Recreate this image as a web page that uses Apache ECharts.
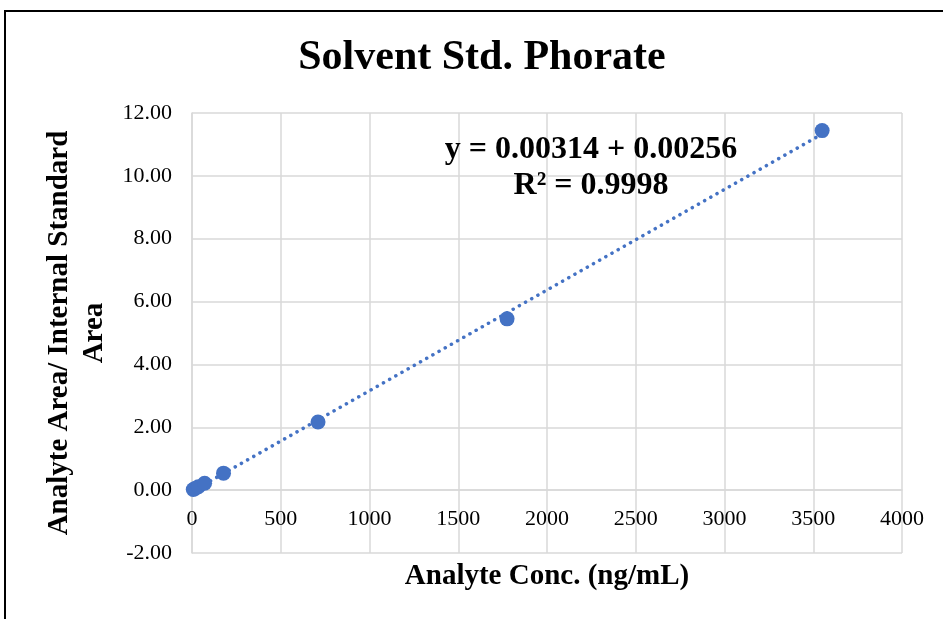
<!DOCTYPE html>
<html>
<head>
<meta charset="utf-8">
<script src="https://cdn.jsdelivr.net/npm/echarts@6/dist/echarts.min.js"></script>
<style>
  html, body { margin: 0; padding: 0; background: #fff; }
  #chart { width: 943px; height: 619px; }
</style>
</head>
<body>
<div id="chart"></div>
<script>
// calibration points (ng/mL, area ratio)
var concValues = [7.1, 17.75, 35.5, 71, 177.5, 710, 1775, 3550];
var ratioValues = [0.02, 0.05, 0.11, 0.22, 0.54, 2.17, 5.45, 11.44];
var xTicks = [0, 500, 1000, 1500, 2000, 2500, 3000, 3500, 4000];
var yTicks = [-2, 0, 2, 4, 6, 8, 10, 12];
var titleText = "Solvent Std. Phorate";
var equationText = "y = 0.00314 + 0.00256";
var r2Text = "R² = 0.9998";

var serif = "'Liberation Serif', 'Times New Roman', serif";

// least squares trendline from the points
var n = concValues.length, sx = 0, sy = 0, sxx = 0, sxy = 0;
for (var i = 0; i < n; i++) {
    sx += concValues[i];
    sy += ratioValues[i];
    sxx += concValues[i] * concValues[i];
    sxy += concValues[i] * ratioValues[i];
}
var slope = (n * sxy - sx * sy) / (n * sxx - sx * sx);
var intercept = (sy - slope * sx) / n;
var trendX = [0, concValues[n - 1]];

var points = concValues.map(function (c, i) { return [c, ratioValues[i]]; });
var trend = trendX.map(function (c) { return [c, intercept + slope * c]; });

var gridTop = 113, gridBottom = 66, chartH = 619;
var yMin = yTicks[0], yMax = yTicks[yTicks.length - 1];
// x axis labels sit on the y = 0 line, like Excel
var zeroOffset = -(0 - yMin) / (yMax - yMin) * (chartH - gridTop - gridBottom);

var gridLine = { color: "#d9d9d9", width: 1.5 };

var chart = echarts.init(document.getElementById("chart"));
chart.setOption({
    animation: false,
    backgroundColor: "#fff",
    grid: { left: 192, right: 41, top: gridTop, bottom: gridBottom },
    xAxis: {
        type: "value",
        min: xTicks[0],
        max: xTicks[xTicks.length - 1],
        interval: 500,
        offset: zeroOffset,
        axisLine: { show: true, onZero: false, lineStyle: gridLine },
        axisTick: { show: false },
        axisLabel: {
            fontFamily: serif, fontSize: 22, color: "#000", margin: 18,
            formatter: function (v) { return String(v); }
        },
        splitLine: { show: true, lineStyle: gridLine }
    },
    yAxis: {
        type: "value",
        min: yMin,
        max: yMax,
        interval: 2,
        name: "Analyte Area/ Internal Standard\nArea",
        nameLocation: "middle",
        nameGap: 80,
        nameMoveOverlap: false,
        nameTextStyle: { fontFamily: serif, fontSize: 29, fontWeight: "bold", color: "#000", lineHeight: 35 },
        axisLine: { show: true, onZero: false, lineStyle: gridLine },
        axisTick: { show: false },
        axisLabel: {
            fontFamily: serif, fontSize: 22, color: "#000", margin: 20,
            formatter: function (v) { return v.toFixed(2); }
        },
        splitLine: { show: true, lineStyle: gridLine }
    },
    graphic: [
        {
            type: "polyline",
            shape: { points: [[5, 619], [5, 11], [943, 11]] },
            style: { stroke: "#000", lineWidth: 2, fill: null }
        },
        {
            type: "text",
            x: 482, y: 58, z: 100,
            style: { text: titleText, font: "bold 42px " + serif, fill: "#000", align: "center", verticalAlign: "middle" }
        },
        {
            type: "text",
            x: 547, y: 577, z: 100,
            style: { text: "Analyte Conc. (ng/mL)", font: "bold 29px " + serif, fill: "#000", align: "center", verticalAlign: "middle" }
        },
        {
            type: "text",
            x: 591, y: 150, z: 100,
            style: { text: equationText, font: "bold 32px " + serif, fill: "#000", align: "center", verticalAlign: "middle" }
        },
        {
            type: "text",
            x: 591, y: 186, z: 100,
            style: { text: r2Text, font: "bold 32px " + serif, fill: "#000", align: "center", verticalAlign: "middle" }
        }
    ],
    series: [
        {
            type: "line",
            data: trend,
            showSymbol: false,
            symbol: "none",
            silent: true,
            lineStyle: { color: "#4472c4", width: 3.5, type: [0.1, 7], cap: "round" },
            z: 2
        },
        {
            type: "scatter",
            data: points,
            symbolSize: 15,
            itemStyle: { color: "#4472c4", opacity: 1 },
            z: 3
        }
    ]
});
</script>
</body>
</html>
